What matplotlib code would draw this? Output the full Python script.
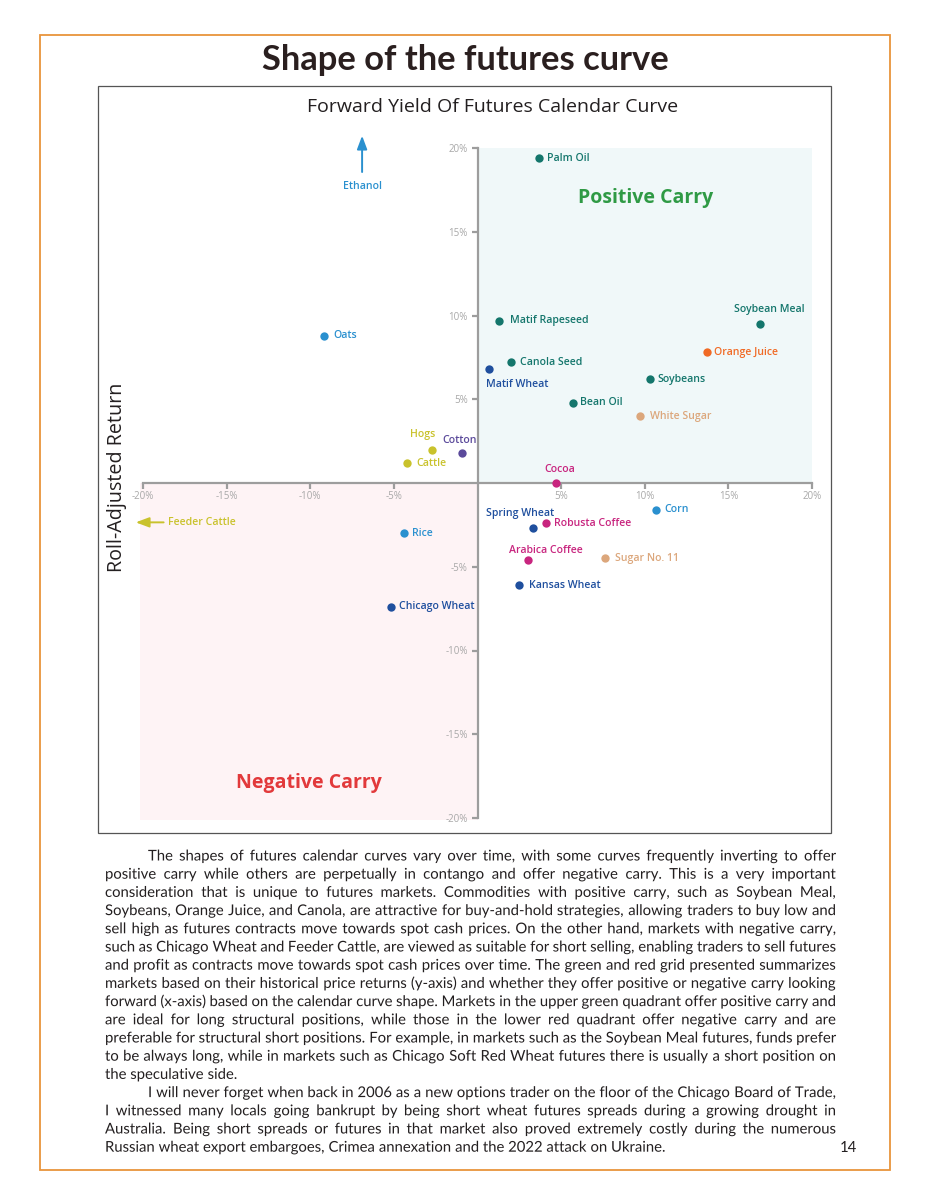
import matplotlib
matplotlib.use('Agg')
import matplotlib.pyplot as plt
from matplotlib.patches import Rectangle, PathPatch
from matplotlib.textpath import TextPath
from matplotlib.font_manager import FontProperties
from matplotlib.transforms import Affine2D, IdentityTransform
import numpy as np

W, H = 927, 1203

# data (percent)
names = ['Palm Oil', 'Matif Rapeseed', 'Canola Seed', 'Matif Wheat', 'Bean Oil', 'Soybeans',
         'White Sugar', 'Orange Juice', 'Soybean Meal', 'Oats', 'Hogs', 'Cotton', 'Cattle',
         'Cocoa', 'Corn', 'Spring Wheat', 'Robusta Coffee', 'Arabica Coffee', 'Sugar No. 11',
         'Kansas Wheat', 'Rice', 'Chicago Wheat']
fwd_yield = [3.7, 1.3, 2.0, 0.7, 5.7, 10.3, 9.7, 13.7, 16.9, -9.2, -2.7, -0.9, -4.2,
             4.7, 10.7, 3.3, 4.1, 3.0, 7.6, 2.5, -4.4, -5.2]
roll_ret = [19.4, 9.7, 7.2, 6.8, 4.8, 6.2, 4.0, 7.8, 9.5, 8.8, 2.0, 1.8, 1.2,
            0.0, -1.6, -2.7, -2.4, -4.6, -4.5, -6.1, -3.0, -7.4]
groups = ['oilseed', 'oilseed', 'oilseed', 'wheat', 'oilseed', 'oilseed',
          'sugar', 'oj', 'oilseed', 'grain', 'meat', 'cotton', 'meat',
          'soft', 'grain', 'wheat', 'soft', 'soft', 'sugar', 'wheat', 'grain', 'wheat']
ticks = [-20, -15, -10, -5, 5, 10, 15, 20]

colors = {'oilseed': '#14766c', 'wheat': '#1f4f9e', 'sugar': '#dca77c', 'oj': '#f06a25',
          'grain': '#2a90cf', 'meat': '#c9c22c', 'cotton': '#5b4a9b', 'soft': '#c8257f'}

# label offsets in pixels (dx, dy, ha)
offsets = {'Palm Oil': (8, 0, 'left'), 'Matif Rapeseed': (11, 0, 'left'),
           'Canola Seed': (9, 0, 'left'), 'Matif Wheat': (-3, -15, 'left'),
           'Bean Oil': (7, 0, 'left'), 'Soybeans': (8, 0, 'left'),
           'White Sugar': (10, 0, 'left'), 'Orange Juice': (7, 0, 'left'),
           'Soybean Meal': (9, 14, 'center'), 'Oats': (10, 0, 'left'),
           'Hogs': (3, 15, 'right'), 'Cotton': (-3, 12, 'center'),
           'Cattle': (9, -1, 'left'), 'Cocoa': (4, 13, 'center'), 'Corn': (8, 0, 'left'),
           'Spring Wheat': (-13, 15, 'center'), 'Robusta Coffee': (8, 0, 'left'),
           'Arabica Coffee': (18, 10, 'center'), 'Sugar No. 11': (10, 0, 'left'),
           'Kansas Wheat': (10, 0, 'left'), 'Rice': (8, 0, 'left'),
           'Chicago Wheat': (8, 0, 'left')}

para1 = [
    "The shapes of futures calendar curves vary over time, with some curves frequently inverting to offer",
    "positive carry while others are perpetually in contango and offer negative carry. This is a very important",
    "consideration that is unique to futures markets. Commodities with positive carry, such as Soybean Meal,",
    "Soybeans, Orange Juice, and Canola, are attractive for buy-and-hold strategies, allowing traders to buy low and",
    "sell high as futures contracts move towards spot cash prices. On the other hand, markets with negative carry,",
    "such as Chicago Wheat and Feeder Cattle, are viewed as suitable for short selling, enabling traders to sell futures",
    "and profit as contracts move towards spot cash prices over time. The green and red grid presented summarizes",
    "markets based on their historical price returns (y-axis) and whether they offer positive or negative carry looking",
    "forward (x-axis) based on the calendar curve shape. Markets in the upper green quadrant offer positive carry and",
    "are ideal for long structural positions, while those in the lower red quadrant offer negative carry and are",
    "preferable for structural short positions. For example, in markets such as the Soybean Meal futures, funds prefer",
    "to be always long, while in markets such as Chicago Soft Red Wheat futures there is usually a short position on",
    "the speculative side.",
]
para2 = [
    "I will never forget when back in 2006 as a new options trader on the floor of the Chicago Board of Trade,",
    "I witnessed many locals going bankrupt by being short wheat futures spreads during a growing drought in",
    "Australia. Being short spreads or futures in that market also proved extremely costly during the numerous",
    "Russian wheat export embargoes, Crimea annexation and the 2022 attack on Ukraine.",
]

PX = 72 / 100  # points per pixel
INK = '#231f20'
LBL = dict(fontsize=7.6, fontweight='semibold', family='Open Sans')

fig = plt.figure(figsize=(W / 100, H / 100), dpi=100)
fig.patch.set_facecolor('white')

# page frame
fig.add_artist(Rectangle((40 / W, 1 - 1170 / H), 850 / W, 1135 / H, transform=fig.transFigure,
                         fill=False, ec='#e8943c', lw=1.3))
# chart box
fig.add_artist(Rectangle((98 / W, 1 - 833 / H), 733 / W, 747 / H, transform=fig.transFigure,
                         fill=False, ec='#555555', lw=0.9))

fig.text(465.5 / W, 1 - 60 / H, 'Shape of the futures curve', ha='center', va='center',
         fontsize=24.8, fontweight='bold', family='Lato', color='#2a1f1f')
fig.text(493 / W, 1 - 106.5 / H, 'Forward Yield Of Futures Calendar Curve', ha='center',
         va='center', fontsize=14, family='Open Sans', color=INK)
fig.text(117 / W, 1 - 477 / H, 'Roll-Adjusted Return', ha='center', va='center', rotation=90,
         fontsize=14.2, family='Open Sans', color=INK)

ax = fig.add_axes([143 / W, 1 - 818 / H, 669 / W, 670 / H])
ax.set_xlim(-20, 20)
ax.set_ylim(-20, 20)
ax.patch.set_alpha(0)

# quadrant shading
ax.add_patch(Rectangle((0, 0), 20, 20, fc='#f0f8f9', ec='none', zorder=0))
ax.add_patch(Rectangle((-20.2, -20.1), 20.2, 20.1, fc='#fef3f5', ec='none', zorder=0,
                       clip_on=False))

for s in ['top', 'right']:
    ax.spines[s].set_visible(False)
for s in ['left', 'bottom']:
    ax.spines[s].set_position(('data', 0))
    ax.spines[s].set_color('#9d9d9d')
    ax.spines[s].set_linewidth(1.6)
ax.set_xticks(ticks)
ax.set_yticks(ticks)
ax.set_xticklabels(['%d%%' % t for t in ticks])
ax.set_yticklabels(['%d%%' % t for t in ticks])
ax.tick_params(axis='x', direction='out', length=4, width=1.6, color='#9d9d9d',
               labelsize=7, labelcolor='#a8a8a8', pad=2)
ax.tick_params(axis='y', direction='out', length=4, width=1.6, color='#9d9d9d',
               labelsize=7, labelcolor='#a8a8a8', pad=3)
for lab in ax.get_xticklabels() + ax.get_yticklabels():
    lab.set_family('Open Sans')

for n, xv, yv, g in zip(names, fwd_yield, roll_ret, groups):
    c = colors[g]
    ax.scatter([xv], [yv], s=36, color=c, zorder=3, linewidths=0)
    dx, dy, ha = offsets[n]
    ax.annotate(n, (xv, yv), xytext=(dx * PX, dy * PX), textcoords='offset points',
                ha=ha, va='center', color=c, zorder=4, **LBL)

# off-scale markets
ax.annotate('', xy=(-6.9, 20.9), xytext=(-6.9, 18.4), annotation_clip=False,
            arrowprops=dict(arrowstyle='-|>,head_length=0.8,head_width=0.3',
                            color=colors['grain'], lw=1.4))
ax.text(-6.9, 17.7, 'Ethanol', ha='center', va='center', color=colors['grain'], **LBL)
ax.annotate('', xy=(-20.6, -2.35), xytext=(-18.6, -2.35), annotation_clip=False,
            arrowprops=dict(arrowstyle='-|>,head_length=0.8,head_width=0.3',
                            color=colors['meat'], lw=1.4))
ax.text(-18.5, -2.35, 'Feeder Cattle', ha='left', va='center', color=colors['meat'], **LBL)

ax.text(10.05, 17.0, 'Positive Carry', ha='center', va='center', fontsize=14,
        fontweight='bold', family='Open Sans', color='#2f9a45')
ax.text(-10.1, -17.9, 'Negative Carry', ha='center', va='center', fontsize=14,
        fontweight='bold', family='Open Sans', color='#e2393b')

# body text, justified by hand; words drawn as paths so they share one baseline
renderer = fig.canvas.get_renderer()
FS = 10.7
fp = FontProperties(family='Lato', size=FS)
body = dict(fontproperties=fp, va='baseline', ha='left')


def adv(s):
    t = fig.text(0, 0, s, **body)
    w = t.get_window_extent(renderer).width
    t.remove()
    return w


space_w = adv('x x') - adv('xx')


def draw_line(line, x0, x1, y, justify):
    words = line.split(' ')
    widths = [adv(w) for w in words]
    if justify and len(words) > 1:
        gap = (x1 - x0 - sum(widths)) / (len(words) - 1)
    else:
        gap = space_w
    x = x0
    for w, wd in zip(words, widths):
        tp = TextPath((0, 0), w, size=FS / PX, prop=fp)
        tr = Affine2D().translate(x, H - y)
        fig.add_artist(PathPatch(tr.transform_path(tp), fc=INK, ec='none', lw=0, snap=False,
                                 transform=IdentityTransform()))
        x += wd + gap


LEFT, RIGHT, INDENT = 105, 836, 148
y = 860.5
step = 18.2
for i, line in enumerate(para1):
    draw_line(line, INDENT if i == 0 else LEFT, RIGHT, y, i < len(para1) - 1)
    y += step
for i, line in enumerate(para2):
    draw_line(line, INDENT if i == 0 else LEFT, RIGHT, y, i < len(para2) - 1)
    y += step

fig.text(848 / W, 1 - 1152.5 / H, '14', ha='center', va='baseline', fontsize=FS, family='Lato',
         color=INK)

fig.savefig('out.png', dpi=100)
